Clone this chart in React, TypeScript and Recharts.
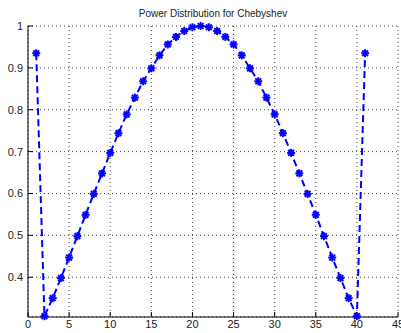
import { LineChart, Line, XAxis, YAxis, CartesianGrid } from "recharts";

// element index 1..41
const positions = [
  1, 2, 3, 4, 5, 6, 7, 8, 9, 10, 11, 12, 13, 14, 15, 16, 17, 18, 19, 20, 21,
  22, 23, 24, 25, 26, 27, 28, 29, 30, 31, 32, 33, 34, 35, 36, 37, 38, 39, 40, 41,
];

const power = [
  0.935, 0.307, 0.35, 0.398, 0.447, 0.498, 0.549, 0.599, 0.648, 0.697, 0.744,
  0.789, 0.829, 0.868, 0.899, 0.93, 0.956, 0.974, 0.988, 0.997, 1.0, 0.997,
  0.988, 0.974, 0.956, 0.93, 0.899, 0.868, 0.829, 0.789, 0.744, 0.697, 0.648,
  0.599, 0.549, 0.498, 0.447, 0.398, 0.35, 0.307, 0.935,
];

const xTicks = [0, 5, 10, 15, 20, 25, 30, 35, 40, 45];
const yTicks = [0.4, 0.5, 0.6, 0.7, 0.8, 0.9, 1];

const data = positions.map((x, i) => ({ x, p: power[i] }));

const font = { fontFamily: "Liberation Sans, Arial, sans-serif", fontSize: 11, fill: "#222" };

const Star = (props: any) => {
  const { cx, cy, index } = props;
  if (cx == null || cy == null) return <g key={index} />;
  const r = 4;
  const d = r * 0.72;
  return (
    <g key={index} stroke="#0000ff" strokeWidth={2}>
      <line x1={cx - r} y1={cy} x2={cx + r} y2={cy} />
      <line x1={cx} y1={cy - r} x2={cx} y2={cy + r} />
      <line x1={cx - d} y1={cy - d} x2={cx + d} y2={cy + d} />
      <line x1={cx - d} y1={cy + d} x2={cx + d} y2={cy - d} />
    </g>
  );
};

export default function App() {
  return (
    <div style={{ position: "absolute", left: 0, top: 0, width: 401, height: 333, background: "#fff" }}>
      <div
        style={{
          position: "absolute",
          left: 0,
          width: 426,
          top: 8.5,
          textAlign: "center",
          fontFamily: "Liberation Sans, Arial, sans-serif",
          fontSize: 10,
          lineHeight: "10px",
          color: "#222",
        }}
      >
        Power Distribution for Chebyshev
      </div>
      <LineChart width={401} height={333} data={data} margin={{ top: 26, right: 3, bottom: 0, left: 0 }}>
        <CartesianGrid stroke="#444" strokeDasharray="1 3" />
        <XAxis
          dataKey="x"
          type="number"
          domain={[0, 45]}
          ticks={xTicks}
          height={16}
          tickSize={-5}
          tickMargin={8}
          tick={font}
          axisLine={{ stroke: "#000" }}
          tickLine={{ stroke: "#000" }}
          interval={0}
        />
        <XAxis
          xAxisId="top"
          orientation="top"
          type="number"
          domain={[0, 45]}
          ticks={xTicks}
          height={0}
          tickSize={-5}
          tick={false}
          axisLine={{ stroke: "#000" }}
          tickLine={{ stroke: "#000" }}
        />
        <YAxis
          type="number"
          domain={[0.305, 1]}
          ticks={yTicks}
          width={28}
          tickSize={-5}
          tickMargin={10}
          tick={font}
          axisLine={{ stroke: "#000" }}
          tickLine={{ stroke: "#000" }}
          interval={0}
        />
        <YAxis
          yAxisId="right"
          orientation="right"
          type="number"
          domain={[0.305, 1]}
          ticks={yTicks}
          width={0}
          tickSize={-5}
          tick={false}
          axisLine={{ stroke: "#000" }}
          tickLine={{ stroke: "#000" }}
        />
        <Line
          dataKey="p"
          type="linear"
          stroke="#0000ff"
          strokeWidth={2}
          strokeDasharray="7 4"
          dot={Star}
          activeDot={false}
          isAnimationActive={false}
        />
      </LineChart>
    </div>
  );
}
